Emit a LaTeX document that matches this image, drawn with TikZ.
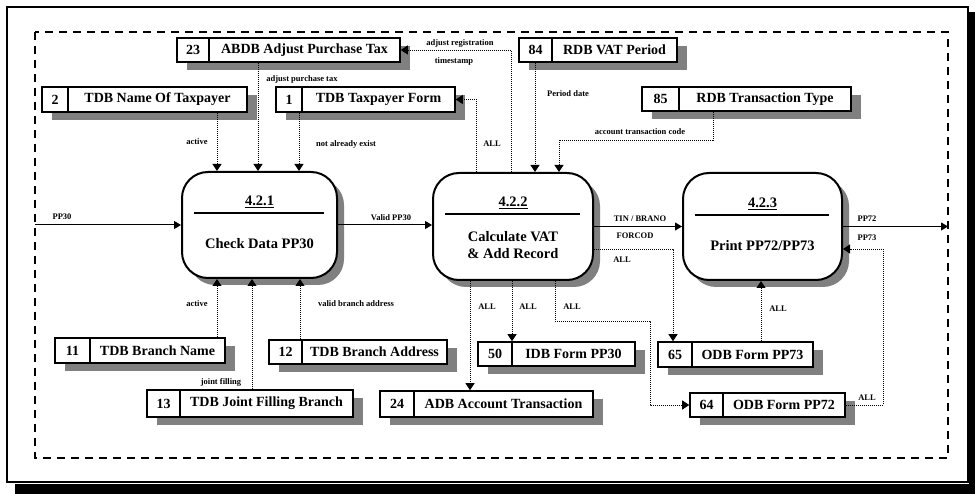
\documentclass[tikz,border=0pt]{standalone}
\usepackage{fontspec}
\setmainfont{Liberation Serif}
\usetikzlibrary{arrows.meta,shadows}
\newcommand{\dstore}[8]{%
  \node[store, minimum width={(#4-#2)*1pt}, minimum height={(#5-#3)*1pt}] (#1) at ({(#2+#4)/2},{(#3+#5)/2}) {};
  \draw[line width=1.6pt] (#6,0 |- #1.north) -- (#6,0 |- #1.south);
  \node[stxt] (#1n) at ({(#2+#6)/2},{(#3+#5)/2}) {#7};
  \node[stxt] (#1t) at ({(#6+#4)/2},{(#3+#5)/2}) {#8};
}
\newcommand{\procbox}[8]{%
  \node[proc, minimum width={(#4-#2)*1pt}, minimum height={(#5-#3)*1pt}] (#1) at ({(#2+#4)/2},{(#3+#5)/2}) {};
  \node[ptxt] (#1n) at ({(#2+#4)/2},{#7-11}) {\underline{#6}};
  \draw[line width=1.6pt] ({#2+12},#7) -- ({#4-13},#7);
  \node[ptxt] (#1t) at ({(#2+#4)/2},{(#7+#5)/2-2}) {#8};
}
\begin{document}
\begin{tikzpicture}[x=1pt,y=-1pt,
  store/.style={draw,line width=1.6pt,fill=white,inner sep=0pt,
     drop shadow={shadow xshift=10pt,shadow yshift=-8pt,fill=black!50,opacity=1}},
  stxt/.style={font=\fontsize{14}{16}\selectfont\bfseries,inner sep=0pt},
  proc/.style={draw,line width=2pt,fill=white,rounded corners=26pt,inner sep=0pt,
     drop shadow={shadow xshift=7pt,shadow yshift=-7pt,fill=black!50,opacity=1}},
  ptxt/.style={font=\fontsize{14.5}{17}\selectfont\bfseries,inner sep=0pt,align=center},
  lbl/.style={font=\fontsize{8.5}{10}\selectfont\bfseries,inner sep=0pt},
  flow/.style={line width=1pt,-{Triangle[width=8pt,length=7pt]}},
  dflow/.style={line width=0.9pt,dash pattern=on 1pt off 1pt,-{Triangle[width=9pt,length=7pt]}},
]
\useasboundingbox (0,0) rectangle (975,494);
\fill[white] (0,0) rectangle (975,494);
% outer frame with shadow
\fill[black] (15,484) rectangle (975,494);
\fill[black] (969,12) rectangle (975,494);
\draw[line width=1.5pt] (7,7) rectangle (968,482);
% dashed boundary
\draw[line width=2pt,dash pattern=on 8pt off 6pt] (35,32) rectangle (948,458);
\coordinate (inL) at (35,225);
\coordinate (outR) at (948,226.5);

% data stores
\dstore{s23}{177}{38}{400}{62}{209}{23}{ABDB Adjust Purchase Tax}
\dstore{s2}{42}{87}{247}{112}{68}{2}{TDB Name Of Taxpayer}
\dstore{s1}{276}{87}{455}{112}{302}{1}{TDB Taxpayer Form}
\dstore{s84}{519}{38}{677}{62}{552}{84}{RDB VAT Period}
\dstore{s85}{642}{87}{851}{111}{679}{85}{RDB Transaction Type}
\dstore{s11}{55}{338}{225}{363}{90}{11}{TDB Branch Name}
\dstore{s12}{269}{340}{447}{364}{302}{12}{TDB Branch Address}
\dstore{s13}{147}{390}{353}{417}{180}{13}{TDB Joint Filling Branch}
\dstore{s24}{380}{391}{593}{417}{414}{24}{ADB Account Transaction}
\dstore{s50}{478}{342}{635}{366}{512}{50}{IDB Form PP30}
\dstore{s65}{658}{342}{813}{367}{692}{65}{ODB Form PP73}
\dstore{s64}{690}{393}{845}{417}{723}{64}{ODB Form PP72}

% processes
\procbox{p1}{182}{172}{337}{278}{4.2.1}{213}{Check Data PP30}
\procbox{p2}{433}{173}{593}{280}{4.2.2}{214}{Calculate VAT\\\& Add Record}
\procbox{p3}{683}{173}{842}{280}{4.2.3}{215}{Print PP72/PP73}

% solid flows
\draw[flow] (inL) -- (inL -| p1.west);
\draw[flow] (p1.east) -- (p1.east -| p2.west);
\draw[flow] (p2.east) -- (p3.west);
\draw[flow] (p3.east) -- (outR);

% into p1 top
\draw[dflow] (217,0 |- s2.south) -- (217,0 |- p1.north);
\draw[dflow] (258,0 |- s23.south) -- (258,0 |- p1.north);
\draw[dflow] (299,0 |- s1.south) -- (299,0 |- p1.north);
% into p1 bottom
\draw[dflow] (217,0 |- s11.north) -- (217,0 |- p1.south);
\draw[dflow] (252,0 |- s13.north) -- (252,0 |- p1.south);
\draw[dflow] (300,0 |- s12.north) -- (300,0 |- p1.south);
% p2 top
\draw[dflow] (476,0 |- p2.north) |- (s1.east);
\draw[dflow] (511,0 |- p2.north) |- (s23.east);
\draw[dflow] (535,0 |- s84.south) -- (535,0 |- p2.north);
\draw[dflow] (713,0 |- s85.south) |- (559,140) -- (559,0 |- p2.north);
% p2 bottom
\draw[dflow] (470,0 |- p2.south) -- (470,0 |- s24.north);
\draw[dflow] (512,0 |- p2.south) -- (512,0 |- s50.north);
\draw[dflow] (555,0 |- p2.south) |- (650,321) |- (s64.west);
% p2 right to s65
\draw[dflow] (p2.east |- 0,249) -| (673,0 |- s65.north);
% s65 to p3
\draw[dflow] (761,0 |- s65.north) -- (761,0 |- p3.south);
% s64 to p3
\draw[dflow] (s64.east) -| (883,249) -- (p3.east |- 0,249);

% labels
\node[lbl] (l1) at (62,217) {PP30};
\node[lbl] (l2) at (391,218) {Valid PP30};
\node[lbl] (l3) at (640,219) {TIN / BRANO};
\node[lbl] (l4) at (635,236) {FORCOD};
\node[lbl] (l5) at (622,260) {ALL};
\node[lbl] (l6) at (867,219) {PP72};
\node[lbl] (l7) at (867,238) {PP73};
\node[lbl] (l8) at (197,142) {active};
\node[lbl] (l9) at (302,79) {adjust purchase tax};
\node[lbl] (l10) at (346,144) {not already exist};
\node[lbl] (l11) at (492,144) {ALL};
\node[lbl] (l12) at (460,43) {adjust registration};
\node[lbl] (l13) at (454,61) {timestamp};
\node[lbl] (l14) at (568,94) {Period date};
\node[lbl] (l15) at (640,132) {account transaction code};
\node[lbl] (l16) at (197,304) {active};
\node[lbl] (l17) at (356,304) {valid branch address};
\node[lbl] (l18) at (221,382) {joint filling};
\node[lbl] (l19) at (487,307) {ALL};
\node[lbl] (l20) at (528,307) {ALL};
\node[lbl] (l21) at (572,307) {ALL};
\node[lbl] (l22) at (778,309) {ALL};
\node[lbl] (l23) at (867,398) {ALL};
\end{tikzpicture}
\end{document}
